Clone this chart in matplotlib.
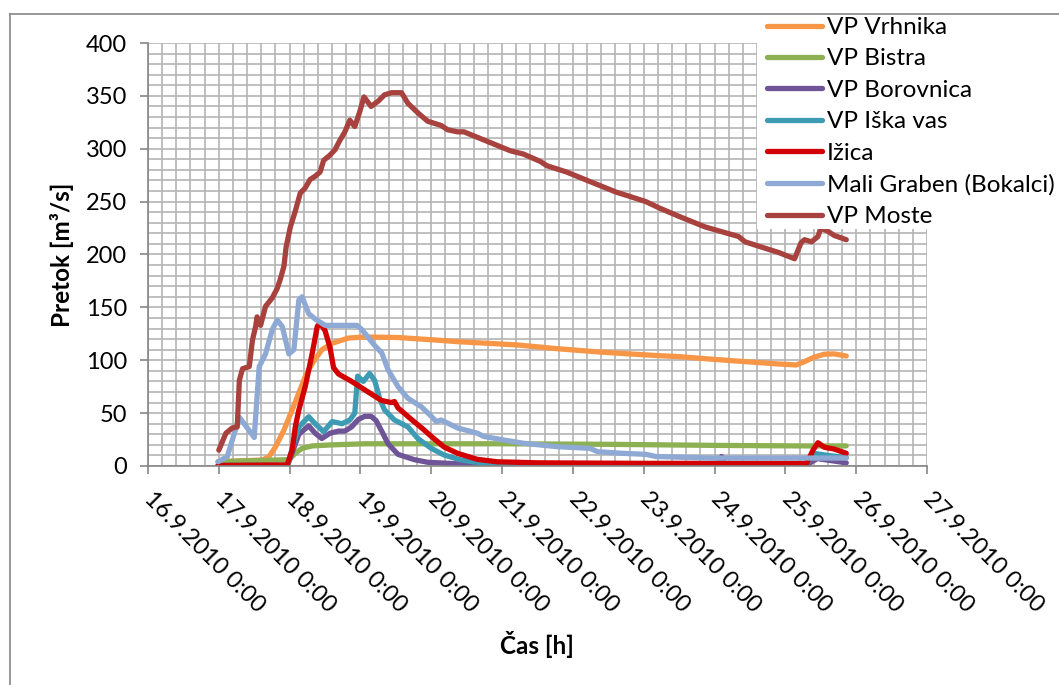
import matplotlib
matplotlib.use("Agg")
import matplotlib.pyplot as plt
from matplotlib.ticker import MultipleLocator
from matplotlib.patches import Rectangle
from matplotlib.lines import Line2D

plt.rcParams['font.family'] = ['Lato', 'DejaVu Sans']

# Time in days since 16.9.2010 0:00, discharge in m3/s
tick_labels = ["16.9.2010 0:00", "17.9.2010 0:00", "18.9.2010 0:00", "19.9.2010 0:00",
               "20.9.2010 0:00", "21.9.2010 0:00", "22.9.2010 0:00", "23.9.2010 0:00",
               "24.9.2010 0:00", "25.9.2010 0:00", "26.9.2010 0:00", "27.9.2010 0:00"]

vrhnika_t = [0.99, 1.62, 1.71, 1.80, 1.92, 2.035, 2.13, 2.22, 2.32, 2.455, 2.60, 2.83, 3.06,
             3.53, 4.09, 4.37, 5.21, 5.77, 6.33, 6.80, 7.17, 7.50, 7.96, 8.43, 8.90, 9.155,
             9.27, 9.41, 9.55, 9.69, 9.86]
vrhnika_q = [4, 5.7, 9, 18, 34, 53, 69, 84.5, 97, 110, 116, 121, 122,
             121.5, 119, 117.6, 114.5, 111, 108, 106, 104.5, 103.4, 101, 98.7, 96.5, 95.5,
             98.7, 103, 105.7, 106, 104]

bistra_t = [0.99, 1.99, 2.08, 2.175, 2.32, 2.60, 3.06, 4.0, 5.0, 6.5, 8.0, 9.2, 9.86]
bistra_q = [4, 6, 12, 16.7, 19, 20, 21, 21, 21, 20.5, 19.5, 19, 19]

borovnica_t = [0.99, 1.97, 2.05, 2.13, 2.27, 2.36, 2.455, 2.57, 2.69, 2.78, 2.875, 2.97,
               3.06, 3.15, 3.22, 3.30, 3.39, 3.53, 3.76, 3.95, 4.4, 5.5, 8.05, 8.10, 8.15,
               9.3, 9.45, 9.86]
borovnica_q = [0.5, 0.5, 15, 30, 38, 31, 26, 31, 33, 33, 37, 44,
               47, 47, 43, 33, 21, 11, 6, 3.5, 2, 1, 1, 9, 1,
               1, 7, 3]

iska_t = [0.99, 1.97, 2.05, 2.13, 2.27, 2.36, 2.48, 2.60, 2.74, 2.85, 2.92, 2.96, 3.04,
          3.13, 3.20, 3.27, 3.34, 3.48, 3.67, 3.81, 4.0, 4.18, 4.42, 4.74, 5.2, 9.28,
          9.40, 9.6, 9.86]
iska_q = [0.5, 0.5, 20, 37, 46.6, 40, 32.5, 42, 40, 43.5, 50, 85, 80,
          87.5, 81, 64, 53, 43.5, 37, 26, 16.7, 10.4, 5.7, 2.5, 0.5, 0.5,
          12, 10, 8]

izica_t = [0.99, 1.965, 2.035, 2.08, 2.13, 2.22, 2.32, 2.39, 2.43, 2.50, 2.57, 2.62, 2.69,
           2.875, 3.015, 3.155, 3.295, 3.435, 3.48, 3.53, 3.72, 3.81, 3.90, 4.0, 4.18,
           4.37, 4.65, 4.93, 5.5, 7.0, 9.30, 9.39, 9.46, 9.55, 9.69, 9.86]
izica_q = [0.5, 1, 15, 37, 53, 75, 107, 132, 135, 128, 112, 93, 87,
           80, 74, 68, 62, 60, 61, 55, 44, 39, 34, 28, 18,
           12, 6.3, 4, 3, 2.5, 2.5, 15, 22, 17.7, 16, 12]

graben_t = [0.99, 1.12, 1.22, 1.29, 1.38, 1.50, 1.57, 1.66, 1.755, 1.825, 1.895, 1.99,
            2.06, 2.13, 2.175, 2.27, 2.36, 2.50, 2.78, 2.95, 3.02, 3.20, 3.30, 3.39, 3.53,
            3.67, 3.86, 4.0, 4.07, 4.14, 4.37, 4.65, 4.74, 5.02, 5.30, 5.77, 6.24, 6.35,
            6.70, 7.03, 7.17, 7.40, 7.96, 9.86]
graben_q = [4, 9, 31, 46, 38, 27, 94, 106, 129, 138, 132, 106,
            110, 157, 160, 144, 139, 133, 133, 133, 129, 114, 107, 91, 75,
            64, 56, 47, 42, 43.5, 36, 31, 28, 24.6, 21.5, 18.3, 16.7, 13.5,
            12, 11, 9, 8.5, 7.5, 7.5]

moste_t = [1.00, 1.10, 1.19, 1.26, 1.29, 1.335, 1.43, 1.475, 1.52, 1.54, 1.59, 1.66, 1.755,
           1.825, 1.87, 1.92, 1.95, 2.01, 2.08, 2.15, 2.22, 2.29, 2.36, 2.43, 2.48, 2.57,
           2.64, 2.71, 2.78, 2.85, 2.92, 2.99, 3.05, 3.15, 3.25, 3.34, 3.44, 3.58, 3.67,
           3.81, 3.95, 4.14, 4.23, 4.37, 4.46, 4.79, 5.12, 5.30, 5.54, 5.63, 5.91, 6.24,
           6.61, 6.80, 7.03, 7.22, 7.50, 7.87, 8.34, 8.43, 8.71, 8.90, 9.13, 9.22, 9.27,
           9.37, 9.46, 9.50, 9.60, 9.69, 9.86]
moste_q = [15, 31, 36, 37, 81, 92, 94, 119, 132, 141, 133, 151, 159,
           168, 177, 189, 207, 226, 241, 258, 263, 271, 274, 278, 289, 294,
           299, 308, 316, 327, 321, 335, 349, 340, 345, 351, 353, 353, 343,
           334, 326, 322, 318, 316, 316, 307, 298, 295, 288, 284, 278, 269,
           259, 255, 250, 244, 236, 226, 217, 212, 206, 202, 196, 211, 214,
           212, 217, 225, 222, 218, 214]

series = [
    ("VP Vrhnika", vrhnika_t, vrhnika_q, "#F79646"),
    ("VP Bistra", bistra_t, bistra_q, "#8DB052"),
    ("VP Borovnica", borovnica_t, borovnica_q, "#6F5597"),
    ("VP Iška vas", iska_t, iska_q, "#3D9BB4"),
    ("Ižica", izica_t, izica_q, "#D20000"),
    ("Mali Graben (Bokalci)", graben_t, graben_q, "#8EA9D4"),
    ("VP Moste", moste_t, moste_q, "#A8423F"),
]

W, H = 1059, 685
fig = plt.figure(figsize=(W / 100, H / 100), dpi=100)
fig.patch.set_facecolor("white")

x0, x1, y0, y1 = 148, 927, 43, 466
ax = fig.add_axes([x0 / W, 1 - y1 / H, (x1 - x0) / W, (y1 - y0) / H])

for name, t, q, c in series:
    ax.plot(t, q, color=c, lw=3.8, label=name, solid_capstyle="round",
            solid_joinstyle="round")

ax.set_xlim(0, 11)
ax.set_ylim(0, 400)
ax.set_xticks(range(12))
ax.set_yticks(range(0, 401, 50))
ax.xaxis.set_minor_locator(MultipleLocator(0.2))
ax.yaxis.set_minor_locator(MultipleLocator(10))
ax.grid(which="both", color="#B4B4B4", lw=1.2)
ax.set_axisbelow(True)

for s in ("top", "right"):
    ax.spines[s].set_visible(False)
for s in ("left", "bottom"):
    ax.spines[s].set_color("#868686")
    ax.spines[s].set_linewidth(1.2)

ax.tick_params(which="minor", length=0)
ax.tick_params(which="major", direction="out", length=6, width=1.2, color="#868686",
               labelsize=17)
ax.tick_params(axis="y", pad=9)
ax.tick_params(axis="x", pad=15)
ax.set_xticklabels(tick_labels, rotation=-45, ha="left", va="center",
                   rotation_mode="anchor")

fig.text(62 / W, 1 - 255 / H, "Pretok [m³/s]", rotation=90, ha="center",
         va="center", fontsize=17.5, fontweight="bold")
fig.text(537 / W, 1 - 645 / H, "Čas [h]", ha="center", va="center",
         fontsize=17.5, fontweight="bold")

# white legend panel over the upper-right part of the plot
fig.patches.append(Rectangle((757 / W, 1 - 229 / H), (W - 757) / W, (229 - 15) / H,
                             transform=fig.transFigure, facecolor="white",
                             edgecolor="none", zorder=2))

leg = fig.legend(loc="upper left", bbox_to_anchor=(767 / W, 1 - 17 / H),
                 frameon=False, fontsize=17.5, handlelength=2.25, handletextpad=0.2,
                 labelspacing=0.43, borderpad=0.0, borderaxespad=0.0)
leg.set_zorder(3)
for line in leg.get_lines():
    line.set_linewidth(3.8)

# chart area outline
fig.lines.append(Line2D([10 / W, 10 / W], [0, 1 - 14 / H], transform=fig.transFigure,
                        color="#868686", lw=1.2, zorder=4))
fig.lines.append(Line2D([10 / W, 1], [1 - 14 / H, 1 - 14 / H], transform=fig.transFigure,
                        color="#868686", lw=1.2, zorder=4))

fig.savefig("out.png", dpi=100)
